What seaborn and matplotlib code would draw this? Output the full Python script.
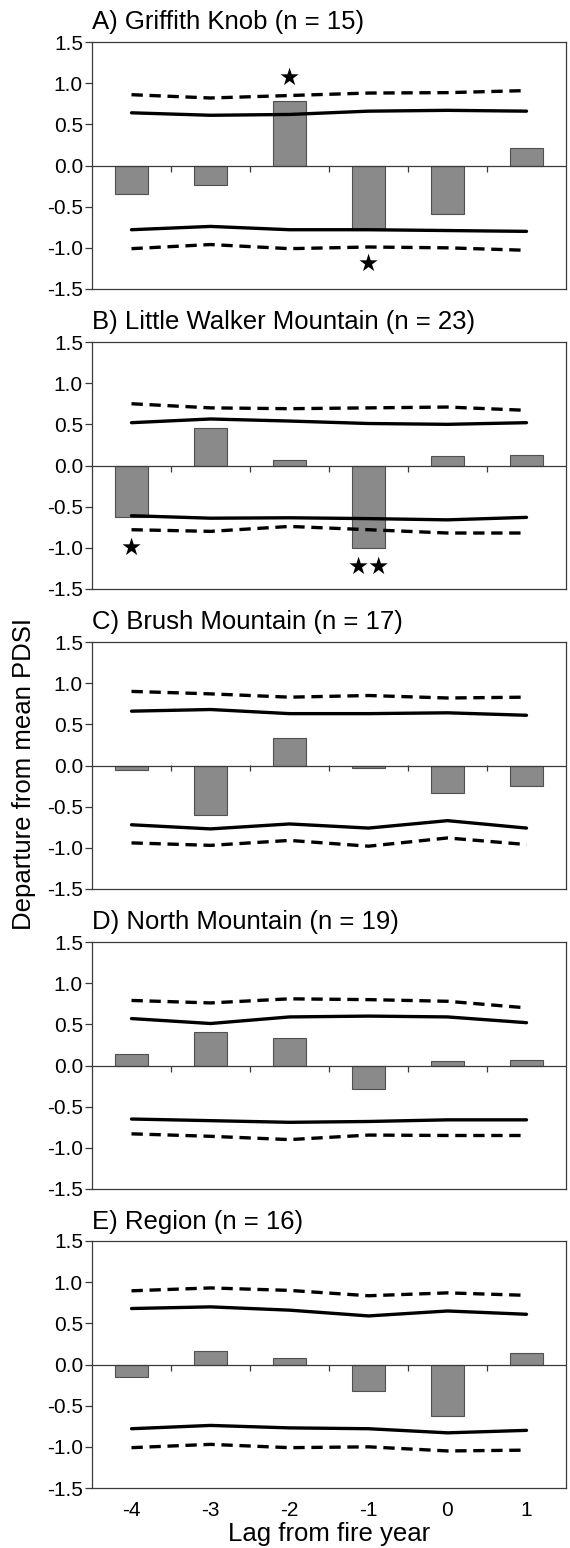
import numpy as np
import pandas as pd
import matplotlib
matplotlib.use("Agg")
import matplotlib.pyplot as plt
import seaborn as sns

# Lags relative to the fire year
lags = [-4, -3, -2, -1, 0, 1]

titles = [
    "A) Griffith Knob (n = 15)",
    "B) Little Walker Mountain (n = 23)",
    "C) Brush Mountain (n = 17)",
    "D) North Mountain (n = 19)",
    "E) Region (n = 16)",
]

# Mean departure from PDSI per panel (bars)
bar_values = [
    [-0.35, -0.24, 0.78, -0.78, -0.59, 0.21],
    [-0.63, 0.46, 0.07, -1.00, 0.12, 0.13],
    [-0.05, -0.60, 0.34, -0.03, -0.34, -0.25],
    [0.14, 0.41, 0.34, -0.28, 0.05, 0.07],
    [-0.15, 0.16, 0.085, -0.32, -0.625, 0.14],
]

# Confidence limits: solid = 95%, dashed = 99%
upper_solid = [
    [0.64, 0.61, 0.62, 0.66, 0.67, 0.66],
    [0.52, 0.565, 0.54, 0.51, 0.50, 0.52],
    [0.66, 0.68, 0.63, 0.63, 0.64, 0.61],
    [0.57, 0.51, 0.59, 0.60, 0.59, 0.52],
    [0.68, 0.70, 0.66, 0.59, 0.65, 0.61],
]
upper_dashed = [
    [0.86, 0.82, 0.85, 0.88, 0.885, 0.91],
    [0.75, 0.70, 0.69, 0.70, 0.71, 0.67],
    [0.90, 0.87, 0.83, 0.85, 0.82, 0.83],
    [0.79, 0.76, 0.81, 0.80, 0.78, 0.70],
    [0.895, 0.93, 0.90, 0.835, 0.87, 0.84],
]
lower_solid = [
    [-0.78, -0.74, -0.78, -0.78, -0.79, -0.80],
    [-0.61, -0.64, -0.635, -0.645, -0.66, -0.63],
    [-0.72, -0.77, -0.71, -0.76, -0.67, -0.76],
    [-0.65, -0.67, -0.69, -0.68, -0.66, -0.66],
    [-0.78, -0.74, -0.77, -0.78, -0.83, -0.80],
]
lower_dashed = [
    [-1.01, -0.96, -1.01, -0.99, -1.00, -1.03],
    [-0.78, -0.80, -0.74, -0.78, -0.82, -0.82],
    [-0.94, -0.97, -0.91, -0.98, -0.88, -0.96],
    [-0.83, -0.86, -0.90, -0.845, -0.85, -0.85],
    [-1.01, -0.97, -1.01, -1.00, -1.05, -1.04],
]

# Significance stars: (panel, lag, y, symbol)
star_panel = [0, 0, 1, 1]
star_lag = [-2, -1, -4, -1]
star_y = [1.07, -1.19, -1.00, -1.23]
star_text = ["\u2605", "\u2605", "\u2605", "\u2605\u2605"]

yticks = [1.5, 1.0, 0.5, 0.0, -0.5, -1.0, -1.5]

sns.set_theme(style="white")
plt.rcParams["font.family"] = ["Liberation Sans", "DejaVu Sans"]
plt.rcParams["text.color"] = "black"
plt.rcParams["axes.labelcolor"] = "black"
plt.rcParams["xtick.color"] = "black"
plt.rcParams["ytick.color"] = "black"

W, H = 570, 1548
fig = plt.figure(figsize=(W / 100, H / 100), dpi=100)

frame_col = "#3a3a3a"
left_px, width_px, height_px = 92, 474, 247
tops_px = [42, 342, 642, 942, 1241]

for i, top in enumerate(tops_px):
    ax = fig.add_axes([left_px / W, 1 - (top + height_px) / H,
                       width_px / W, height_px / H])

    df = pd.DataFrame({
        "lag": lags,
        "value": bar_values[i],
        "up95": upper_solid[i],
        "up99": upper_dashed[i],
        "lo95": lower_solid[i],
        "lo99": lower_dashed[i],
    })

    sns.barplot(data=df, x="lag", y="value", native_scale=True, width=0.42,
                color="#8a8a8a", saturation=1, edgecolor="#505050",
                linewidth=0.8, ax=ax, zorder=2)

    for col, ls in [("up95", "-"), ("lo95", "-"),
                    ("up99", (0, (3.4, 2.0))), ("lo99", (0, (3.4, 2.0)))]:
        sns.lineplot(data=df, x="lag", y=col, color="black", linewidth=2.4,
                     linestyle=ls, ax=ax, zorder=3)

    for p, lg, yv, s in zip(star_panel, star_lag, star_y, star_text):
        if p == i:
            ax.text(lg, yv, s, ha="center", va="center", fontsize=17,
                    family="DejaVu Sans", color="black", zorder=4)

    # zero line across the panel
    ax.axhline(0, color=frame_col, linewidth=0.9, zorder=2.5)

    ax.set_xlim(lags[0] - 0.5, lags[-1] + 0.5)
    ax.set_ylim(-1.5, 1.5)
    ax.set_yticks(yticks)
    ax.set_yticklabels([f"{v:.1f}" for v in yticks])
    ax.set_xticks(lags)
    ax.set_xlabel("")
    ax.set_ylabel("")
    ax.tick_params(axis="y", direction="out", length=5, width=0.9,
                   color=frame_col, labelcolor="black", labelsize=15,
                   pad=1.5, left=True)
    if i == len(tops_px) - 1:
        ax.set_xticklabels([str(v) for v in lags])
        ax.tick_params(axis="x", length=0, labelsize=15, pad=9,
                       labelcolor="black")
        ax.set_xlabel("Lag from fire year", fontsize=18.5, labelpad=2,
                      color="black")
    else:
        ax.tick_params(axis="x", length=0, labelbottom=False)

    for sp in ax.spines.values():
        sp.set_visible(True)
        sp.set_color(frame_col)
        sp.set_linewidth(0.9)

    # tick marks on the zero line, between categories
    zero_ax = ax.secondary_xaxis(0.5)
    zero_ax.set_xticks([v + 0.5 for v in lags[:-1]])
    zero_ax.tick_params(axis="x", direction="out", length=4.5, width=0.9,
                        color=frame_col, labelbottom=False, labeltop=False,
                        bottom=True, top=False)
    for sp in zero_ax.spines.values():
        sp.set_visible(False)

    ax.annotate(titles[i], xy=(0, 1), xycoords="axes fraction",
                xytext=(0, 9), textcoords="offset points",
                ha="left", va="baseline", fontsize=18.5, color="black")

fig.text(24 / W, 0.5, "Departure from mean PDSI", rotation=90,
         ha="center", va="center", fontsize=18.5, color="black")

fig.savefig("out.png", dpi=100)
